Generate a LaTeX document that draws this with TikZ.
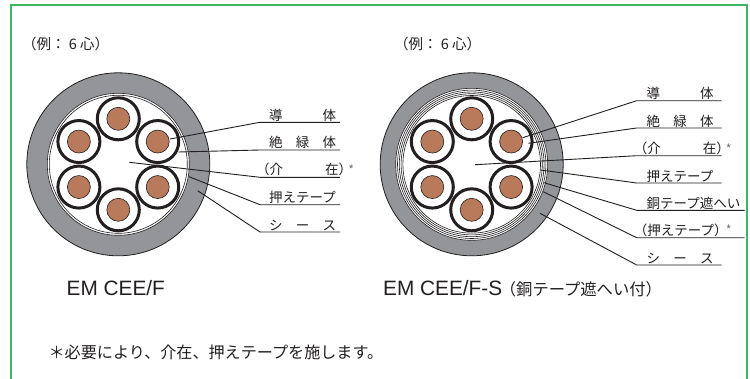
\documentclass[tikz,border=0pt]{standalone}
\usepackage{fontspec}
\setmainfont{Liberation Sans}
\newfontfamily\jpf{Noto Sans CJK JP}
\usetikzlibrary{calc}
\definecolor{frameg}{HTML}{3DB562}
\definecolor{sheath}{HTML}{939598}
\definecolor{copperc}{HTML}{B97A5C}
\definecolor{ink}{HTML}{231F20}
\tikzset{
  lbl/.style={anchor=base west,inner sep=0pt,text=ink,font=\jpf\fontsize{13.5}{13.5}\selectfont},
  star/.style={anchor=base west,inner sep=0pt,text=ink!75,font=\fontsize{11}{11}\selectfont},
  leader/.style={draw=ink,line width=0.9pt,line join=miter},
  model/.style={anchor=base west,inner sep=0pt,text=ink,font=\fontsize{20.8}{20.8}\selectfont},
  capt/.style={anchor=base west,inner sep=0pt,text=ink,font=\jpf\fontsize{14.5}{14.5}\selectfont},
  sub/.style={anchor=base west,inner sep=0pt,text=ink,font=\jpf\fontsize{16.3}{16.3}\selectfont},
  note/.style={anchor=base west,inner sep=0pt,text=ink,font=\jpf\fontsize{16.1}{16.1}\selectfont},
  outerc/.style={circle,draw=ink,line width=0.8pt,fill=sheath,minimum size=183pt,inner sep=0pt},
  ringc/.style={circle,draw=ink,line width=0.6pt,fill=white,inner sep=0pt},
  corewhite/.style={circle,draw=ink,line width=3pt,fill=white,minimum size=42pt,inner sep=0pt},
  corecu/.style={circle,draw=ink,line width=0.6pt,fill=copperc,minimum size=23pt,inner sep=0pt}
}
\newcommand{\cores}[1]{%
  \foreach \a/\n in {90/a,30/b,-30/c,-90/d,-150/e,150/f}{
    \node[corewhite] (#1w\n) at ($(#1)+(\a:-45.5pt)$) {};
    \node[corecu] (#1c\n) at (#1w\n) {};
  }}
\newcommand{\spreadlabel}[2]{\makebox[#1][s]{#2}}
\begin{document}
\begin{tikzpicture}[x=1pt,y=-1pt]
\useasboundingbox (0,0) rectangle (750,378);
\clip (0,0) rectangle (750,378);
\draw[frameg,line width=2pt] (11,4.5) rectangle (747,390);
% left cable
\coordinate (L) at (118.3,164.3);
\node[outerc] (Lo) at (L) {};
\node[ringc,minimum size=142pt] (Li1) at (L) {};
\node[ringc,minimum size=138pt] (Li2) at (L) {};
\cores{L}
% right cable
\coordinate (R) at (471.7,164.3);
\node[outerc] (Ro) at (R) {};
\foreach \d/\k in {152/a,148.4/b,144.8/c,141.2/d,137.6/e}{
  \node[ringc,minimum size=\d pt] (Rr\k) at (R) {};
}
\cores{R}
% left leaders
\foreach \n/\x/\y in {1/170/139,2/178.3/152,3/129.3/162.3,4/189/176.7,5/197.7/190.7}{\coordinate (p\n) at (\x,\y);}
\foreach \n/\y in {1/122.3,2/150,3/177.3,4/204.7,5/232}{
  \coordinate (e\n) at (260,\y);
  \coordinate (f\n) at (340,\y);
  \draw[leader] (p\n) -- (e\n) -- (f\n);
}
\node[lbl] (l1) at (269,120) {\spreadlabel{67pt}{導\hfill 体}};
\node[lbl] (l2) at (269,147.6) {\spreadlabel{67pt}{絶\hfill 緑\hfill 体}};
\node[lbl] (l3) at (264,174.6) {\spreadlabel{80pt}{\hspace{-8pt}（介\hfill 在）\hspace{-8pt}}};
\node[star] (s3) at (349,172.5) {*};
\node[lbl] (l4) at (269,202) {押えテープ};
\node[lbl] (l5) at (269,230) {\spreadlabel{67pt}{シ\hfill ー\hfill ス}};
% right leaders
\foreach \n/\x/\y in {1/522.7/137.7,2/528.3/143.3,3/475/164.7,4/540.7/170,5/544/182.7,6/543.3/191.7,7/540/213.3}{\coordinate (q\n) at (\x,\y);}
\foreach \n/\y/\xe in {1/100.7/721.7,2/128/721.7,3/155.7/721.7,4/183/721.7,5/210.3/744.5,6/237.7/744.5,7/265/721.7}{
  \coordinate (g\n) at (636.7,\y);
  \coordinate (h\n) at (\xe,\y);
  \draw[leader] (q\n) -- (g\n) -- (h\n);
}
\node[lbl] (r1) at (646.5,98.5) {\spreadlabel{67pt}{導\hfill 体}};
\node[lbl] (r2) at (646.5,126) {\spreadlabel{67pt}{絶\hfill 緑\hfill 体}};
\node[lbl] (r3) at (641.7,153.3) {\spreadlabel{80pt}{\hspace{-8pt}（介\hfill 在）\hspace{-8pt}}};
\node[star] (t3) at (726.5,151) {*};
\node[lbl] (r4) at (646.5,181) {押えテープ};
\node[lbl] (r5) at (646.5,208.5) {銅テープ遮へい};
\node[lbl] (r6) at (641.7,235.7) {\hspace{-8pt}（押えテープ）\hspace{-8pt}};
\node[star] (t6) at (726.5,232.5) {*};
\node[lbl] (r7) at (646.5,263) {\spreadlabel{67pt}{シ\hfill ー\hfill ス}};
% captions
\node[capt] (c1) at (22,49) {（例：\makebox[14.5pt][c]{6}心）};
\node[capt] (c2) at (394,49) {（例：\makebox[14.5pt][c]{6}心）};
\node[model] (m1) at (66.5,295) {EM CEE/F};
\node[model] (m2) at (383,295) {EM CEE/F-S};
\node[sub] (m3) at (505.7,295.5) {\hspace{-6pt}（銅テープ遮へい付）};
\node[note] (n1) at (48.4,358) {＊必要により、介在、押えテープを施します。};
\end{tikzpicture}
\end{document}
